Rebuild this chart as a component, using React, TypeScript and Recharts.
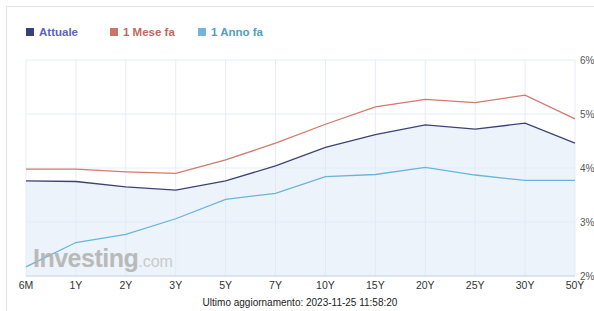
import React from "react";
import { ComposedChart, Area, Line, XAxis, YAxis, CartesianGrid, Legend } from "recharts";

const categories = ["6M", "1Y", "2Y", "3Y", "5Y", "7Y", "10Y", "15Y", "20Y", "25Y", "30Y", "50Y"];
const attuale = [3.76, 3.75, 3.65, 3.59, 3.76, 4.04, 4.38, 4.62, 4.8, 4.72, 4.83, 4.46];
const meseFa = [3.98, 3.98, 3.93, 3.9, 4.15, 4.46, 4.81, 5.13, 5.27, 5.21, 5.35, 4.91];
const annoFa = [2.17, 2.62, 2.77, 3.06, 3.42, 3.53, 3.84, 3.88, 4.01, 3.87, 3.77, 3.77];
const yTicks = [2, 3, 4, 5, 6];

const data = categories.map((c, i) => ({ name: c, attuale: attuale[i], mese: meseFa[i], anno: annoFa[i] }));

const legendItems = [
  { label: "Attuale", icon: "#3b3f78", text: "#5a62c2" },
  { label: "1 Mese fa", icon: "#cc7466", text: "#c0685c" },
  { label: "1 Anno fa", icon: "#6fb6da", text: "#4d9fc4" },
];
const legendX = [26, 110, 198];

const font = "'Liberation Sans', Arial, Helvetica, sans-serif";

const renderLegend = () => (
  <div style={{ position: "relative", height: 12, width: 300, fontFamily: font, fontWeight: "bold", fontSize: 11.5 }}>
    {legendItems.map((it, i) => (
      <div
        key={it.label}
        style={{ position: "absolute", top: 0, left: legendX[i] - 26, display: "flex", alignItems: "center", whiteSpace: "nowrap" }}
      >
        <span style={{ display: "inline-block", width: 8, height: 8, background: it.icon, marginRight: 5 }} />
        <span style={{ color: it.text, lineHeight: "12px" }}>{it.label}</span>
      </div>
    ))}
  </div>
);

export default function App() {
  return (
    <div style={{ position: "absolute", left: 0, top: 0, width: 594, height: 311, overflow: "hidden", background: "#fff" }}>
      <div style={{ position: "absolute", left: 6, top: 6, width: 620, height: 340, border: "1.5px solid #e2e2e2" }} />
      <div style={{ position: "absolute", left: 0, top: 0 }}>
        <ComposedChart width={594} height={311} data={data} margin={{ top: 48, right: 0, left: 26, bottom: 15 }}>
          <CartesianGrid stroke="#e6edf7" strokeWidth={1} vertical horizontal />
          <XAxis
            dataKey="name"
            scale="point"
            padding={{ left: 0, right: 0 }}
            height={20}
            tickLine={false}
            tickSize={0}
            tickMargin={6}
            axisLine={{ stroke: "#c9d6e8" }}
            tick={{ fontSize: 10.5, fill: "#333", fontFamily: font }}
            interval={0}
          />
          <YAxis
            orientation="right"
            width={19}
            domain={[2, 6]}
            ticks={yTicks}
            tickFormatter={(v: number) => v + "%"}
            tickLine={false}
            axisLine={false}
            tickSize={0}
            tickMargin={5}
            tick={{ fontSize: 10, fill: "#555", fontFamily: font, textAnchor: "start" }}
          />
          <Legend
            verticalAlign="top"
            align="left"
            height={12}
            content={renderLegend}
            wrapperStyle={{ position: "absolute", top: 26, left: 26, width: 300, height: 12 }}
          />
          <Area
            type="linear"
            dataKey="attuale"
            stroke="none"
            fill="#dbe8f5"
            fillOpacity={0.5}
            baseValue={2}
            isAnimationActive={false}
            activeDot={false}
            legendType="none"
          />
          <Line type="linear" dataKey="mese" stroke="#d27a6c" strokeWidth={1.3} dot={false} isAnimationActive={false} />
          <Line type="linear" dataKey="anno" stroke="#67b5dc" strokeWidth={1.3} dot={false} isAnimationActive={false} />
          <Line type="linear" dataKey="attuale" stroke="#3e4274" strokeWidth={1.3} dot={false} isAnimationActive={false} />
        </ComposedChart>
      </div>
      <div
        style={{
          position: "absolute",
          left: 33,
          top: 244,
          fontFamily: font,
          color: "#b0b0b0",
          opacity: 0.85,
          pointerEvents: "none",
          whiteSpace: "nowrap",
          letterSpacing: -0.5,
        }}
      >
        <span style={{ fontSize: 25, fontWeight: "bold" }}>Investing</span>
        <span style={{ fontSize: 16, color: "#c4c4c4", letterSpacing: 0 }}>.com</span>
      </div>
      <div
        style={{
          position: "absolute",
          left: 0,
          top: 297,
          width: 600,
          textAlign: "center",
          fontFamily: font,
          fontSize: 10,
          color: "#222",
        }}
      >
        Ultimo aggiornamento: 2023-11-25 11:58:20
      </div>
    </div>
  );
}
